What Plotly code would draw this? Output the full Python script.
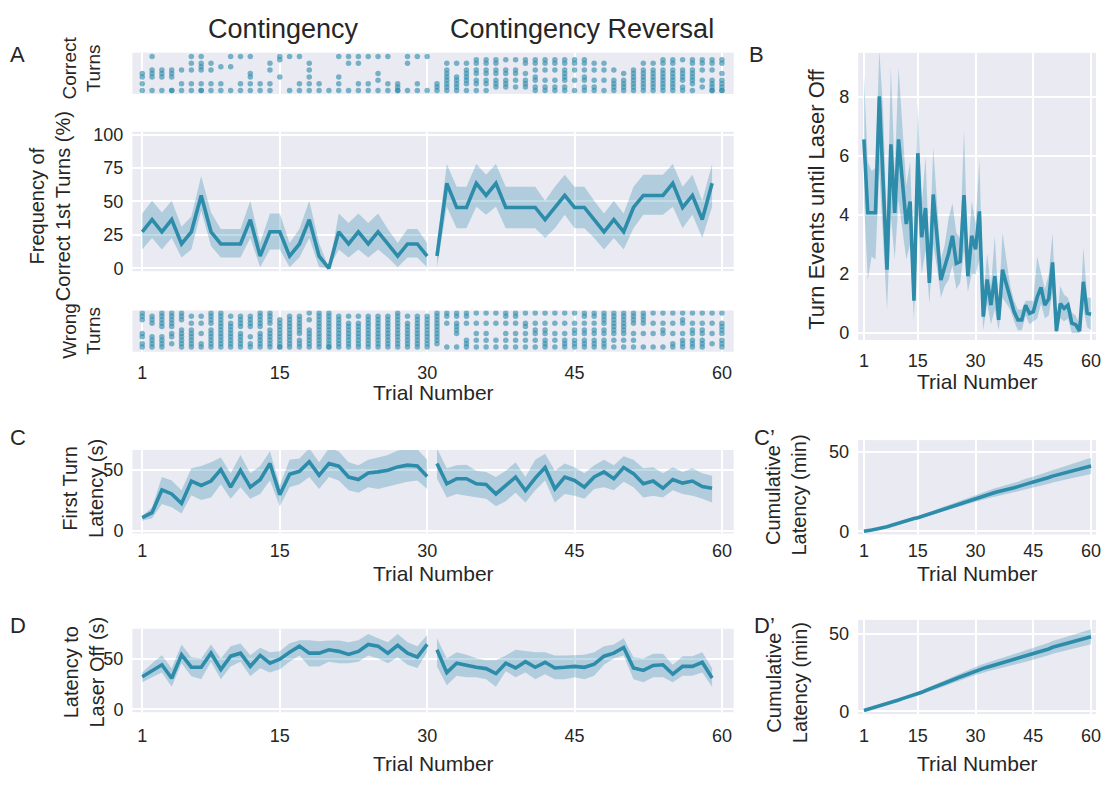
import plotly.graph_objects as go

W, H = 1118, 785
LINE = '#2E8CAB'
BAND = 'rgba(46,140,171,0.30)'
DOT = 'rgba(46,140,171,0.62)'
BG = '#EAEAF2'
TXT = '#262626'
FONT = 'Liberation Sans, Arial, sans-serif'

# ---------------- data ----------------
trials_all = list(range(1, 61))
trials_seg1 = list(range(1, 31))
trials_seg2 = list(range(31, 60))

# correct / wrong turn rasters (level index per dot, per trial 1..60)
correct_levels = [
    [0,2,4,5],[0,4,5,6,10],[0,4,5,6],[0,0,4,5,6],[0,2,6],[0,2,6,8,10],[0,0,2,6,7,8,10],[0,2,6,8],
    [0,2,7],[0,7,10],[0,2,10],[0,2,4,5,10],[0,2],[0,2,6,8],[4,9,10],[0,10],[0,2,10],[0,2,4,6,8],
    [0,2],[0],[0,2,4,10],[0,8,10],[0,2,8,10],[0,2,10],[0,3,5,10],[0,2,10],[0,0,1,2],[0,8,10],
    [0,2,10],[0,10],
    [0,1,2],[0,1,2,3,4,5,6,8],[0,1,2,3,4,8],[0,2,3,4,5,6,8],[0,2,3,5,6,8,9],[0,2,3,5,6,8,9],
    [1,2,3,5,6,8,9],[1,2,3,5,6,9],[1,3,5,6,9],[1,2,3,5,8,9],[0,1,3,4,6,8,9],[0,1,3,6,8,9],
    [0,1,3,6,8,9],[0,1,3,4,5,6,8,9],[0,3,6,8,9],[0,1,3,4,6,8,9],[0,1,3,6,8],[0,3,6,8],
    [0,1,2,3,6],[0,1,2,3,5],[0,1,2,3,4,5,6],[0,1,2,3,4,5,6,8],[0,1,2,3,4,5,6,8],
    [0,1,2,3,4,5,6,8,9],[0,1,2,3,4,5,6,8,9],[0,1,3,4,5,6,9],[0,2,3,4,5,6,8,9],[1,3,6,8,9],
    [0,0,1,2,3,6,8,9],[0,0,1,2,3,5,8,9],
]
wrong_levels = [
    [0,1,3,4,8,9,10],[0,1,2,3,7,8,9],[0,1,2,3,6,7,8,9,10],[1,3,4,6,7,8,9,10],[0,1,2,3,4,5,8,9,10],
    [0,1,2,3,4,5,7,9],[0,1,4,7,9],[0,1,2,3,4,5,7,8,9,10],[0,1,2,3,4,5,6,7,8,9,10],
    [0,1,2,3,4,5,6,7,9],[0,1,2,3,4,6,7,8,9],[0,1,3,6,7,8,9],[0,1,2,3,4,6,7,8,9,10],
    [0,1,2,3,4,5,7,8,9,10],[0,0,1,2,3,4,5,6,7,8],[0,1,2,3,4,5,6,7,8,9],[0,1,2,4,5,6,7,8,9],
    [0,1,2,3,4,5,8,10],[0,1,2,3,4,5,6,7,8,9,10],[0,0,1,2,3,4,5,6,7,8,9,10],[0,1,2,3,4,5,6,7,8,9],
    [0,1,2,3,4,5,6,7,9],[0,1,2,3,4,5,6,7,9],[0,1,2,3,4,5,6,7,8,9],[0,1,2,3,4,5,6,7,8,9],
    [0,1,2,3,4,5,6,7,8,9],[0,1,2,3,4,5,6,7,8,9,10],[0,1,2,3,4,5,6,7,9],[0,1,2,3,4,5,6,7,8,9],
    [0,1,2,3,4,5,6,7,8,9],
    [1,2,3,4,5,6,7,8,9,10],[0,7,9,10],[0,4,5,6,7,9,10],[0,1,2,7,9,10],[0,2,4,7,10],[0,2,4,7,10],
    [0,2,7,10],[0,2,4,7,9,10],[0,2,4,7,9,10],[0,2,4,6,7,10],[0,2,4,5,7,10],[0,1,2,4,5,7,10],
    [0,2,4,7,10],[0,1,2,4,7,10],[0,1,2,4,5,7,10],[0,1,2,4,5,7,9,10],[0,1,2,4,5,7,9,10],
    [0,1,2,4,5,7,8,9,10],[0,2,4,5,6,7,8,9,10],[0,2,4,5,6,7,8,9,10],[0,2,4,7,8,9,10],
    [0,4,7,8,9,10],[0,4,7,10],[0,4,5,7,10],[0,1,4,7,10],[0,1,2,4,7,8,10],[0,1,2,4,5,7,10],
    [0,1,2,4,5,7,10],[1,4,7,10],[0,1,2,4,5,6,7,10],
]

# A: frequency of correct 1st turns (%)
freq_seg1 = [27.3,36.4,27.3,36.4,18.2,27.3,54.5,27.3,18.2,18.2,18.2,36.4,9.1,27.3,27.3,9.1,18.2,36.4,9.1,0,
             27.3,18.2,27.3,18.2,27.3,18.2,9.1,18.2,18.2,9.1]
freq_seg1_lo = [14,22.7,14,22.7,8,14,43,16.7,8,8,8,22.7,0.7,14,14,0.7,8,22.7,0.7,0,14,8,14,8,14,8,0.7,8,8,0.7]
freq_seg1_hi = [41,50.5,41.7,50.5,31,38.7,69,41.7,29.4,29.4,29.4,50.5,19,41,41,19,29.4,50.5,19,0,
                41,33.8,41,33.8,41,29.4,19,29.4,29.4,19]
freq_seg2 = [9.1,63.6,45.5,45.5,63.6,54.5,63.6,45.5,45.5,45.5,45.5,36.4,45.5,54.5,45.5,45.5,36.4,27.3,36.4,
             27.3,45.5,54.5,54.5,54.5,63.6,45.5,54.5,36.4,63.6]
freq_seg2_lo = [0.7,46,30,30,46,40,46,30,30,30,30,22.7,30,40,30,30,22.7,14,22.7,14,30,40,40,40,46,30,40,22.7,46]
freq_seg2_hi = [19,78,61,61,78,70,78,61,61,61,61,50.5,61,70,61,61,50.5,41,50.5,41,61,70,70,70,78,61,70,50.5,78]

# B: turn events until laser off
turns_b = [6.57,4.08,4.08,4.08,8.03,5.0,2.15,6.4,4.08,6.57,5.1,3.7,4.46,1.1,6.1,3.25,4.24,1.7,4.7,3.36,
           1.8,2.26,2.7,3.3,2.37,2.43,4.68,1.93,3.3,2.84,4.13,0.56,1.82,0.95,1.93,0.45,2.15,1.66,1.22,0.73,
           0.45,0.45,0.95,0.67,0.73,1.22,1.55,0.95,1.16,2.4,0.07,1.0,0.84,0.95,0.34,0.29,0.07,1.74,0.67,0.64]
turns_b_lo = [4.5,1.8,2.6,2.5,5.5,3.0,0.8,4.0,2.5,4.5,3.5,2.5,3.0,0.4,4.2,2.0,2.8,1.0,3.0,2.2,
              1.2,1.6,1.8,2.3,1.5,1.7,2.8,1.4,2.0,2.0,2.5,0.1,1.0,0.3,0.8,0.1,1.2,1.0,0.8,0.4,
              0.1,0.1,0.6,0.3,0.4,0.5,1.0,0.5,0.6,1.4,0.0,0.5,0.4,0.5,0.0,0.0,0.0,0.8,0.2,0.1]
turns_b_hi = [8.8,5.8,5.5,5.6,9.6,7.5,3.5,9.0,5.5,9.0,7.0,5.0,5.8,2.2,7.8,4.3,6.0,2.6,6.3,4.5,
              2.5,3.0,3.9,4.4,3.4,3.2,6.9,2.5,4.5,3.7,5.9,1.2,2.7,1.6,3.3,0.9,3.4,2.5,1.6,1.1,
              0.8,0.8,1.1,1.1,1.1,2.6,2.0,1.5,2.0,3.4,0.3,1.6,1.3,1.2,0.7,0.6,0.3,2.9,1.2,1.2]

# C: first turn latency (s)
lat1_seg1 = [10.6,14.7,33.3,30,22.2,40.6,37,40.6,50,35.6,49.4,35.6,41.7,55,29.4,46.1,48.6,56.4,45.3,55,
             52.8,43.9,41.9,47.2,48.1,49.4,52.2,53.6,53,44.4]
lat1_seg1_lo = [8,10,21.7,19,14,29,25,27,38,26,35.6,26,30,41,20,35.6,38,44,34,44,41,33,31,35.6,34,35.6,38,40,41,34]
lat1_seg1_hi = [12,19,44,41,33,51,53,56,60,47,62,47,53,65,37,58,59,67.5,56,67.5,65,56,53.6,58,60,62,65.6,66.7,66.7,58]
lat1_seg2 = [55,38.3,42.5,42.5,38.3,37.8,30,36.9,43.9,32.8,43,51.7,34.2,43.9,41.1,35.6,43.9,48.1,42.5,51.7,
             46.7,38.3,40.6,34.7,41.9,38.9,40.6,36.1,34.7]
lat1_seg2_lo = [42.5,27,30,28.6,27,26,20,24,31,23,33,41,23,30,28.6,26,34,35.6,33,40,35.6,27,28.6,27,33,30,28.6,26,23]
lat1_seg2_hi = [67.5,51,53.6,54,49,48,44,49,56,44,58,63,49,55,52,47,53.6,58,53.6,61,58,51,52,47,52,48,51,47,45]

# C': cumulative first-turn latency (min)
cum1 = [0.2,0.4,0.9,1.4,1.8,2.4,3.0,3.7,4.5,5.1,5.9,6.5,7.2,8.1,8.6,9.4,10.2,11.1,11.9,12.8,
        13.7,14.4,15.1,15.9,16.7,17.5,18.4,19.3,20.2,20.9,21.8,22.5,23.2,23.9,24.5,25.1,25.6,26.2,27.0,27.5,
        28.2,29.1,29.7,30.4,31.1,31.7,32.4,33.2,33.9,34.8,35.5,36.2,36.8,37.4,38.1,38.8,39.4,40.0,40.6,41.2]
cum1_lo = [0.2,0.35,0.8,1.2,1.6,2.1,2.7,3.3,4.0,4.6,5.3,5.8,6.4,7.3,7.7,8.4,9.2,10.0,10.7,11.5,
           12.3,12.9,13.6,14.3,15.0,15.7,16.5,17.3,18.1,18.8,19.5,20.1,20.7,21.3,21.8,22.4,22.8,23.3,24.0,24.4,
           25.1,25.8,26.3,27.0,27.6,28.1,28.7,29.4,30.0,30.8,31.4,32.0,32.5,33.0,33.6,34.2,34.7,35.2,35.7,36.2]
cum1_hi = [0.25,0.45,1.0,1.6,2.0,2.7,3.3,4.1,5.0,5.6,6.5,7.2,8.0,8.9,9.5,10.4,11.2,12.2,13.1,14.1,
           15.1,15.9,16.6,17.5,18.4,19.3,20.3,21.3,22.3,23.0,24.1,24.9,25.7,26.5,27.2,27.8,28.4,29.1,30.0,30.6,
           31.3,32.4,33.1,33.8,34.6,35.3,36.1,37.0,37.8,38.8,39.6,40.4,41.1,41.8,42.6,43.4,44.1,44.8,45.5,46.2]

# D: latency to laser off (s)
lat2_seg1 = [32.5,38,44.4,31,54.4,42,41.9,56,39.7,53,56,42.8,53.8,46,50,56.9,63,56,56,59.4,
             57.8,54.7,57.8,64.7,63,56,63.75,56,52,64.7]
lat2_seg1_lo = [27,32,36.6,22.5,46,33,30,47.5,30,42.8,47.5,33,41,36.6,40,47.5,53.75,42.8,42.8,47.5,
                46,46,47.5,53.75,50.6,46,52,44.4,41.25,57]
lat2_seg1_hi = [36.6,46,54,41,64.7,52,50.6,64.7,50.6,63,65.6,54,61.5,57,58,66,69,69,67.8,68.75,
                68.75,67,69,75,71,67,75,67,63,74]
lat2_seg2 = [59.4,36.6,46,43.75,41.9,40.6,35.6,46,41.25,47.5,41.9,46.9,41.25,41.9,42.8,41.9,45,53,56,61.6,
             41.25,38.75,43.75,44.4,35,42.8,42.8,46.9,31.25]
lat2_seg2_lo = [42.8,24,33.4,32,32,30,22.5,38,32,36.6,30,35,30,30,32,30,33.4,44.4,50.6,53.75,
                30,27,32,32,27,33.4,33.4,36.6,22.5]
lat2_seg2_hi = [71,50.6,57,54.4,51,49,49,53.75,59.4,58.4,57,57,53.75,53.75,53.75,54.4,57,63,64.7,71,
                52,50.6,55.3,55.3,44.4,53,53,57,41.25]

# D': cumulative latency to laser off (min)
cum2 = [0.5,1.2,1.9,2.4,3.3,4.0,4.7,5.6,6.3,7.2,8.1,8.8,9.7,10.5,11.3,12.2,13.3,14.2,15.2,16.2,
        17.1,18.0,19.0,20.1,21.1,22.1,23.1,24.1,25.0,26.0,27.0,27.6,28.4,29.1,29.8,30.5,31.1,31.8,32.5,33.3,
        34.0,34.8,35.5,36.2,36.9,37.6,38.3,39.2,40.1,41.2,41.9,42.5,43.2,44.0,44.6,45.3,46.0,46.8,47.3,48.0]
cum2_lo = [0.45,1.1,1.7,2.2,3.0,3.6,4.3,5.1,5.7,6.5,7.3,8.0,8.8,9.5,10.2,11.0,12.0,12.8,13.7,14.6,
           15.4,16.2,17.1,18.1,19.0,19.9,20.8,21.7,22.5,23.4,24.3,24.8,25.6,26.2,26.8,27.4,28.0,28.6,29.2,30.0,
           30.6,31.3,31.9,32.6,33.2,33.8,34.5,35.3,36.1,37.1,37.7,38.2,38.9,39.6,40.1,40.8,41.4,42.1,42.6,43.2]
cum2_hi = [0.55,1.3,2.1,2.6,3.6,4.4,5.1,6.1,6.9,7.9,8.9,9.6,10.6,11.5,12.4,13.4,14.6,15.6,16.7,17.8,
           18.8,19.8,20.9,22.1,23.2,24.3,25.4,26.5,27.5,28.6,29.7,30.4,31.2,32.0,32.8,33.6,34.2,35.0,35.8,36.6,
           37.4,38.3,39.1,39.8,40.6,41.4,42.1,43.1,44.1,45.3,46.1,46.8,47.5,48.4,49.1,49.8,50.6,51.5,52.0,52.8]

x_ticks = [1, 15, 30, 45, 60]

# ---------------- figure ----------------
fig = go.Figure()


def dom_x(x0, x1):
    return [x0 / W, x1 / W]


def dom_y(y0, y1):
    return [1 - y1 / H, 1 - y0 / H]


def add_line(x, y, lo, hi, ax):
    xa, ya = ax
    fig.add_trace(go.Scatter(x=list(x) + list(x)[::-1], y=list(hi) + list(lo)[::-1], fill='toself',
                             fillcolor=BAND, line=dict(width=0), mode='lines', hoverinfo='skip',
                             showlegend=False, xaxis=xa, yaxis=ya))
    fig.add_trace(go.Scatter(x=x, y=y, mode='lines', line=dict(color=LINE, width=3.6),
                             showlegend=False, xaxis=xa, yaxis=ya))


def add_dots(levels, ax):
    xs, ys = [], []
    for t, lv in zip(trials_all, levels):
        for v in lv:
            xs.append(t)
            ys.append(v)
    fig.add_trace(go.Scatter(x=xs, y=ys, mode='markers', marker=dict(color=DOT, size=5.5, line=dict(width=0)),
                             showlegend=False, xaxis=ax[0], yaxis=ax[1]))


add_dots(correct_levels, ('x', 'y'))
add_line(trials_seg1, freq_seg1, freq_seg1_lo, freq_seg1_hi, ('x2', 'y2'))
add_line(trials_seg2, freq_seg2, freq_seg2_lo, freq_seg2_hi, ('x2', 'y2'))
add_dots(wrong_levels, ('x3', 'y3'))
add_line(trials_all, turns_b, turns_b_lo, turns_b_hi, ('x4', 'y4'))
add_line(trials_seg1, lat1_seg1, lat1_seg1_lo, lat1_seg1_hi, ('x5', 'y5'))
add_line(trials_seg2, lat1_seg2, lat1_seg2_lo, lat1_seg2_hi, ('x5', 'y5'))
add_line(trials_all, cum1, cum1_lo, cum1_hi, ('x6', 'y6'))
add_line(trials_seg1, lat2_seg1, lat2_seg1_lo, lat2_seg1_hi, ('x7', 'y7'))
add_line(trials_seg2, lat2_seg2, lat2_seg2_lo, lat2_seg2_hi, ('x7', 'y7'))
add_line(trials_all, cum2, cum2_lo, cum2_hi, ('x8', 'y8'))

tickfont = dict(family=FONT, size=18, color=TXT)


def xax(x0, x1, rng, anchor, labels=True, standoff=8):
    return dict(domain=dom_x(x0, x1), range=rng, tickvals=x_ticks, showticklabels=labels,
                showgrid=True, gridcolor='white', gridwidth=1.6, zeroline=False, showline=False,
                ticks='', tickfont=tickfont, ticklabelstandoff=standoff, anchor=anchor, fixedrange=True)


def yax(y0, y1, rng, tickvals, anchor, grid=True):
    return dict(domain=dom_y(y0, y1), range=rng, tickvals=tickvals, showticklabels=bool(tickvals),
                showgrid=grid, gridcolor='white', gridwidth=1.6, zeroline=False, showline=False,
                ticks='', tickfont=tickfont, ticklabelstandoff=8, anchor=anchor, fixedrange=True)


LX0, LX1 = 133, 737
RX0, RX1 = 862, 1101
A_XR = [0, 61.2]
B_XR = [-0.5, 61.3]

layout = dict(
    width=W, height=H, margin=dict(l=0, r=0, t=0, b=0), paper_bgcolor='white', plot_bgcolor=BG,
    font=dict(family=FONT, color=TXT), showlegend=False,
    xaxis=xax(LX0, LX1, A_XR, 'y', labels=False),
    yaxis=yax(46.5, 88.5, [-1.0, 11.1], [], 'x', grid=False),
    xaxis2=xax(LX0, LX1, A_XR, 'y2', labels=False),
    yaxis2=yax(127, 269, [-2.2, 102.2], [0, 25, 50, 75, 100], 'x2'),
    xaxis3=xax(LX0, LX1, A_XR, 'y3'),
    yaxis3=yax(309, 351, [-1.37, 10.7], [], 'x3', grid=False),
    xaxis4=xax(RX0, RX1, B_XR, 'y4'),
    yaxis4=yax(46.7, 339, [-0.23, 9.5], [0, 2, 4, 6, 8], 'x4'),
    xaxis5=xax(LX0, LX1, A_XR, 'y5', standoff=5),
    yaxis5=yax(451, 536, [-2.4, 66.1], [0, 50], 'x5'),
    xaxis6=xax(RX0, RX1, B_XR, 'y6', standoff=4),
    yaxis6=yax(441, 537, [-1.85, 57.4], [0, 50], 'x6'),
    xaxis7=xax(LX0, LX1, A_XR, 'y7', standoff=11),
    yaxis7=yax(633, 718, [-2.9, 80.4], [0, 50], 'x7'),
    xaxis8=xax(RX0, RX1, B_XR, 'y8', standoff=9),
    yaxis8=yax(624, 720, [-1.9, 58.9], [0, 50], 'x8'),
)
fig.update_layout(**layout)


def ann(text, x, y, size=21, angle=0):
    fig.add_annotation(text=text, x=x / W, y=1 - y / H, xref='paper', yref='paper', showarrow=False,
                       textangle=angle, xanchor='center', yanchor='middle',
                       font=dict(family=FONT, size=size, color=TXT))


ann('Contingency', 285, 22, size=27)
ann('Contingency Reversal', 585, 22, size=27)
ann('A', 18, 48, size=22)
ann('B', 760, 48, size=22)
ann('C', 18, 438, size=22)
ann('C\u2019', 768, 438, size=22)
ann('D', 18, 630, size=22)
ann('D\u2019', 768, 630, size=22)

ann('Correct<br>Turns', 82, 62, size=19, angle=-90)
ann('Frequency of<br>Correct 1st Turns (%)', 51, 203, size=20, angle=-90)
ann('Wrong<br>Turns', 82, 330, size=19, angle=-90)
ann('Turn Events until Laser Off', 820, 196, size=22, angle=-90)
ann('First Turn<br>Latency (s)', 84, 490, size=20, angle=-90)
ann('Latency to<br>Laser Off (s)', 84, 677, size=20, angle=-90)
ann('Cumulative<br>Latency (min)', 790, 497, size=20, angle=-90)
ann('Cumulative<br>Latency (min)', 790, 688, size=20, angle=-90)

for (x, y) in [(435, 393), (982, 381), (435, 577), (982, 577), (435, 770), (982, 770)]:
    ann('Trial Number', x, y, size=21)

fig.write_html('out.html')
